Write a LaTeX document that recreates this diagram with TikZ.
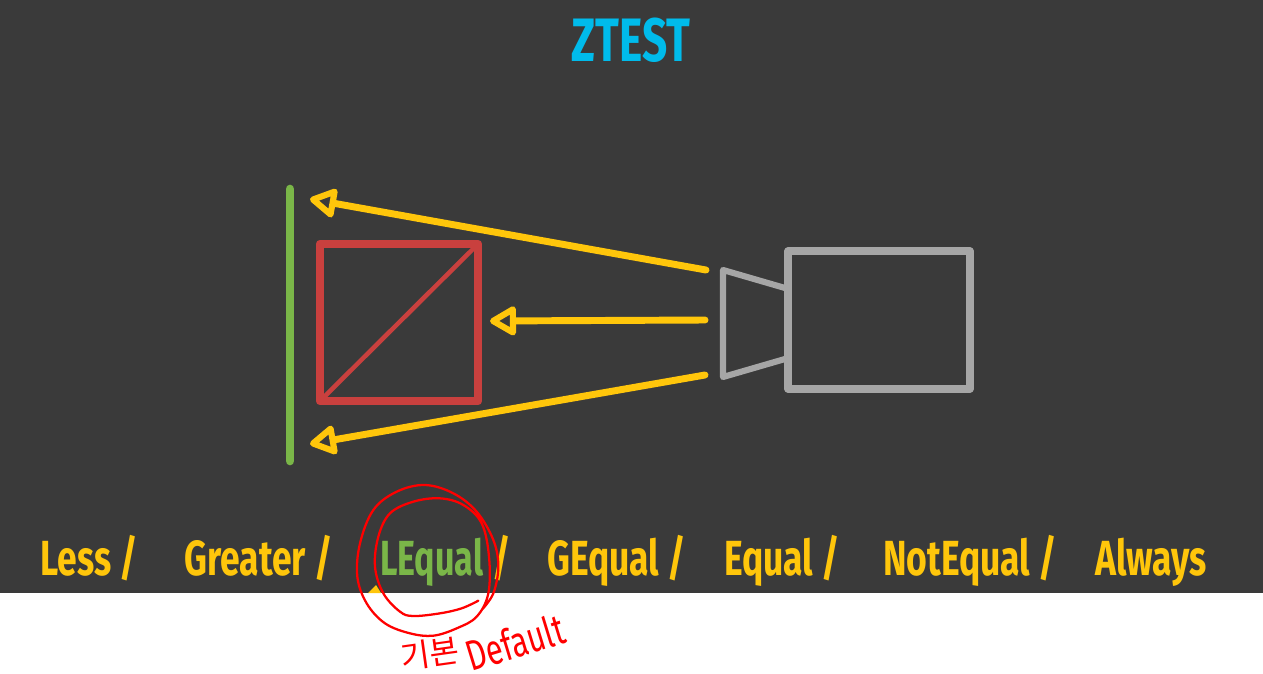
\documentclass[tikz,border=0pt]{standalone}
\usepackage{fontspec}
\setmainfont{Fira Sans}
\newfontfamily\hangul{Noto Sans CJK KR}
\usetikzlibrary{arrows.meta}
\definecolor{slide}{HTML}{3A3A3A}
\definecolor{amber}{HTML}{FFC60B}
\definecolor{leaf}{HTML}{7AB648}
\definecolor{brick}{HTML}{C9403E}
\definecolor{steel}{HTML}{A6A6A6}
\definecolor{sky}{HTML}{00BBEB}
\tikzset{
  mode/.style={font=\fontsize{37}{37}\selectfont\bfseries,text=amber,anchor=base west,inner sep=0pt,transform shape,xscale=#1},
  mode/.default=0.72,
  ray/.style={draw=amber,line width=5.2pt,line cap=round,-{Triangle[open,round,length=22pt,width=24pt,line width=4.6pt]}},
  pen/.style={draw=red,line width=1.7pt,line join=round,line cap=round},
}
\begin{document}
\begin{tikzpicture}[x=0.75pt,y=-0.75pt]
\useasboundingbox (0,0) rectangle (1263,674);
\fill[slide] (0,0) rectangle (1263,593);
\fill[amber] (368,593) -- (376,585) -- (381,593) -- cycle;
\coordinate (Wt) at (290,189);
\coordinate (Wb) at (290,461);
\coordinate (Sa) at (320,244);
\coordinate (Sb) at (478,401);
\coordinate (Ca) at (788,251);
\coordinate (Cb) at (970,389);
\coordinate (Lt) at (785,288);
\coordinate (Lu) at (723,270);
\coordinate (Ld) at (723,377);
\coordinate (Lb) at (785,359);
\coordinate (Rt) at (706,270);
\coordinate (Rm) at (705,320);
\coordinate (Rb) at (705,375);
\coordinate (Ht) at (310,199);
\coordinate (Hm) at (490,321);
\coordinate (Hb) at (310,444);
\draw[leaf,line width=6.5pt,line cap=round] (Wt) -- (Wb);
\draw[brick,line width=6.5pt,line join=round] (Sa) rectangle (Sb);
\draw[brick,line width=3.4pt] (Sa |- Sb) -- (Sb |- Sa);
\draw[steel,line width=5.4pt,line join=round] (Ca) rectangle (Cb);
\draw[steel,line width=4.6pt,line join=round] (Lt) -- (Lu) -- (Ld) -- (Lb);
\draw[ray] (Rt) -- (Ht);
\draw[ray] (Rm) -- (Hm);
\draw[ray] (Rb) -- (Hb);
\node[font=\fontsize{46}{46}\selectfont\bfseries,text=sky,inner sep=0pt,anchor=base,transform shape,xscale=0.72] (title) at (631,62) {ZTEST};
\node[mode] (less) at (40,575) {Less /};
\node[mode] (greater) at (184,575) {Greater /};
\node[mode=0.69,text=leaf] (lequal) at (380,575) {LEqual};
\node[mode] (slash) at (492,575) {/};
\node[mode] (gequal) at (547,575) {GEqual /};
\node[mode] (equal) at (724,575) {Equal /};
\node[mode] (notequal) at (883,575) {NotEqual /};
\node[mode] (always) at (1095,575) {Always};
\begin{scope}[shift={(340,470)},x=0.25pt,y=-0.25pt]
\draw[pen] plot[smooth,tension=0.6] coordinates {(425,420) (460,370) (475,290) (460,210) (410,125) (340,70) (255,45) (170,65) (100,120) (60,220) (52,320) (80,400) (135,460) (210,490) (280,497) (350,475) (410,440) (445,370) (447,260) (425,160) (370,105) (300,85) (220,95) (150,130) (115,200) (105,290) (130,370) (180,425) (220,438) (300,430) (365,415) (415,392)};
\end{scope}
\node[font=\hangul\fontsize{24}{24}\selectfont,text=red,inner sep=0pt,rotate=8] (base) at (430,654) {기본};
\node[font=\fontsize{32}{32}\selectfont\mdseries,text=red,inner sep=0pt,rotate=17,transform shape,xscale=0.72] (default) at (515,642) {Default};
\end{tikzpicture}
\end{document}
